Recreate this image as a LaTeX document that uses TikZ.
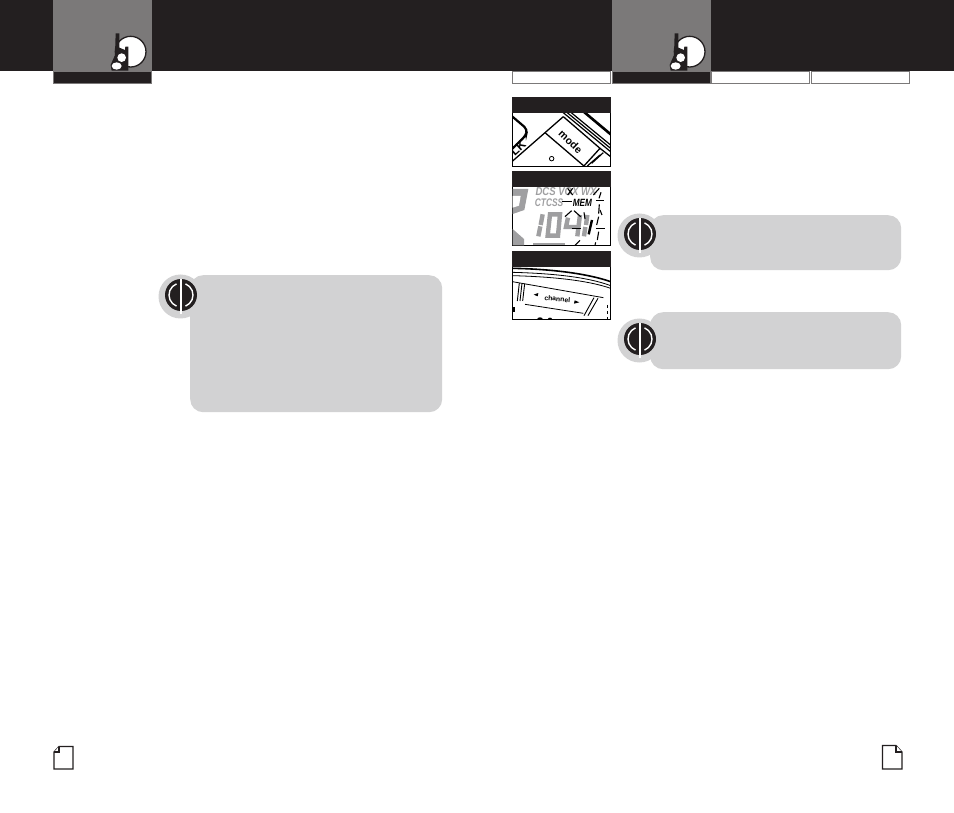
\documentclass[tikz,border=0pt]{standalone}
\usepackage{fontspec}
\setsansfont{Liberation Sans}
\usepackage{tikz}
\usetikzlibrary{positioning}
\definecolor{bandblack}{HTML}{231F20}
\definecolor{tabgray}{HTML}{7B7979}
\definecolor{notegray}{HTML}{D2D2D3}
\definecolor{lcdgray}{HTML}{9F9FA1}
\tikzset{
	band/.style={fill=bandblack,draw=none,inner sep=0pt,outer sep=0pt,anchor=north west},
	graytab/.style={fill=tabgray,draw=none,inner sep=0pt,outer sep=0pt,minimum width=99pt,minimum height=71pt,anchor=north west},
	darktab/.style={fill=bandblack,draw=tabgray,line width=.7pt,inner sep=0pt,outer sep=0pt,minimum width=98pt,minimum height=12pt,anchor=north west},
	whitetab/.style={fill=white,draw=tabgray,line width=.7pt,inner sep=0pt,minimum width=98pt,minimum height=12pt,anchor=north west},
	notebox/.style={fill=notegray,draw=none,rounded corners=13pt,inner sep=0pt,minimum width=251pt,anchor=north west},
	photo/.style={draw=black,line width=1pt,fill=white,inner sep=0pt,outer sep=0pt,minimum width=98pt,anchor=north west},
	photohead/.style={fill=bandblack,draw=none,inner sep=0pt,outer sep=0pt,minimum width=99pt,minimum height=16pt,anchor=north west},
	lcdseg/.style={draw=lcdgray,line width=4.4pt},
	lcdmark/.style={draw=black,line width=1.1pt},
	lcdword/.style={font=\sffamily\bfseries\itshape,text=lcdgray,anchor=west,inner sep=0pt},
	pageicon/.style={draw=bandblack,line width=1.2pt,fill=white,line join=miter}
}
% radio logo
\newcommand{\radiologo}[1]{
	\begin{scope}[shift={#1},x=.3333pt,y=-.3333pt]
		\draw [bandblack,fill=white,line width=1.3pt] (392,155) circle (46);
		\fill [bandblack] (347,100) -- (358,100) -- (358,143) -- (375,150) -- (376,140) -- (385,140) -- (385,212) -- (335,212) -- (332,195) -- (345,165) -- cycle;
		\fill [white] (365,173) circle (13);
		\fill [white] (350,198) ellipse (15 and 11);
	\end{scope}
}
% note mark
\newcommand{\notemark}[2]{
	\node [circle,fill=notegray,minimum size=44pt,inner sep=0pt] (#2) at ([shift={(-.5,1.5)}]#1) {};
	\node [circle,fill=bandblack,minimum size=32pt,inner sep=0pt] (#2in) at (#1) {};
	\draw [white,line width=1.4pt] (#2in.center) ++(68:12) arc (68:-68:12);
	\draw [white,line width=1.4pt] (#2in.center) ++(112:12) arc (112:248:12);
	\draw [white,line width=1.4pt] (#2in.north) -- ([yshift=-3pt]#2in.south);
}
\begin{document}
\begin{tikzpicture}[x=1pt,y=-1pt]
	\useasboundingbox [fill=white] (0,0) rectangle (954,813);

	% Top bands
	\node [band,minimum width=954pt,minimum height=71pt] (topband) at (0,0) {};
	\node [graytab] (tabL) at (52.7,0) {};
	\node [graytab] (tabR) at (611.7,0) {};
	\node [darktab] (darkL) at (53.2,71) {};
	\node [darktab] (darkR) at (612.2,71) {};
	\node [whitetab] (plainL) at (512.2,71) {};
	\node [whitetab] (plainA) at (711.2,71) {};
	\node [whitetab] (plainB) at (810.8,71) {};
	\radiologo{(0,0)}
	\radiologo{(559,0)}

	% Photos
	\node [photo,minimum height=69pt] (photoA) at (512.2,97.5) {};
	\node [photo,minimum height=74pt] (photoB) at (512.2,171.5) {};
	\node [photo,minimum height=68pt] (photoC) at (512.2,251.5) {};

	% mode key
	\begin{scope}[shift={(500,60)},x=.3333pt,y=-.3333pt]
		\clip (37,158) rectangle (331,319);
		\draw [line width=2.2pt,rounded corners=4pt] (35,168) -- (82,208) -- (78,226) -- (35,268);
		\draw [line width=1.3pt] (190,170) -- (30,310);
		\draw [line width=1.3pt] (135,218) -- (260,325);
		\draw [line width=1.3pt] (190,170) -- (300,265) -- (250,320);
		\draw [line width=1.3pt] (300,265) -- (332,290);
		\draw [line width=1.2pt] (180,150) -- (350,290);
		\draw [line width=1.2pt] (192,150) -- (350,280);
		\draw [line width=1.2pt] (204,150) -- (350,270);
		\draw [line width=2.6pt] (245,150) -- (350,238);
		\draw [line width=1.2pt] (275,310) -- (310,278);
		\draw [line width=1.2pt] (262,318) -- (300,285);
		\node [rotate=-44,font=\sffamily\bfseries\fontsize{10.5}{10.5}\selectfont,inner sep=0pt] (modelabel) at (212,246) {mode};
		\node [circle,draw=black,line width=.8pt,minimum size=4.5pt,inner sep=0pt] (modehole) at (155,296) {};
		\node [rotate=42,font=\sffamily\bfseries\fontsize{12}{12}\selectfont,inner sep=0pt] (locklabel) at (54,264) {LK};
	\end{scope}

	% LCD
	\begin{scope}[shift={(500,165)},x=.3333pt,y=-.3333pt]
		\clip (37,66) rectangle (331,241);
		\fill [lcdgray] (38,72) -- (85,72) -- (73,135) -- (38,147) -- cycle;
		\fill [white] (38,93) -- (62,93) -- (57,122) -- (38,128) -- cycle;
		\fill [lcdgray] (38,192) -- (72,222) -- (72,241) -- (38,241) -- cycle;
		\node [lcdword,font=\sffamily\bfseries\itshape\fontsize{11.5}{11.5}\selectfont] (dcslabel) at (106,79) {\scalebox{.83}[1]{DCS VOX WX}};
		\node [lcdword,font=\sffamily\bfseries\itshape\fontsize{11}{11}\selectfont] (ctcsslabel) at (104,114) {\scalebox{.76}[1]{CTCSS}};
		\node [lcdword,text=black,font=\sffamily\bfseries\itshape\fontsize{10.5}{10.5}\selectfont] (memlabel) at (218,115) {\scalebox{.78}[1]{MEM}};
		% digits
		\draw [lcdseg] (128,148) -- (122,180);
		\draw [lcdseg] (121,184) -- (115,214);
		\draw [lcdseg] (150,148) -- (180,148) -- (174,212) -- (143,212) -- cycle;
		\draw [lcdseg] (204,158) -- (198,186) -- (232,186);
		\draw [lcdseg] (240,150) -- (232,214);
		\draw [lcdseg] (262,150) -- (258,180);
		\draw [lcdseg] (256,186) -- (252,214);
		\fill [lcdgray] (100,234) rectangle (195,241);
		% black segments
		\draw [lcdmark] (185,110) -- (216,110);
		\draw [lcdmark] (203,70) -- (218,90);
		\draw [lcdmark] (218,70) -- (203,90);
		\draw [lcdmark] (195,155) -- (215,137);
		\draw [lcdmark] (222,137) -- (242,155);
		\draw [lcdmark] (252,142) -- (255,162);
		\draw [lcdmark] (215,190) -- (242,190);
		\draw [line width=2.4pt] (276,165) -- (266,208);
		\draw [lcdmark] (280,90) -- (298,70);
		\draw [lcdmark] (303,82) -- (297,100);
		\draw [lcdmark] (288,107) -- (312,107);
		\draw [lcdmark] (298,118) -- (296,146);
		\draw [lcdmark] (296,155) -- (290,180);
		\draw [lcdmark] (288,190) -- (315,190);
		\draw [lcdmark] (296,200) -- (292,225);
		\draw [lcdmark] (225,241) -- (240,226);
		\draw [lcdmark] (285,241) -- (287,232);
		\draw [lcdmark] (306,150) -- (300,135);
	\end{scope}

	% channel key
	\begin{scope}[shift={(500,165)},x=.3333pt,y=-.3333pt]
		\clip (37,305) rectangle (331,462);
		\draw [line width=1.6pt] (37,310) .. controls (150,312) and (260,325) .. (332,350);
		\draw [line width=.8pt] (37,322) .. controls (150,325) and (260,335) .. (332,362);
		\draw [line width=.8pt] (37,332) .. controls (150,335) and (260,345) .. (332,370);
		\draw [line width=.8pt] (37,350) -- (310,398);
		\draw [line width=.9pt] (58,354) -- (52,408);
		\draw [line width=.9pt] (66,355) -- (60,408);
		\draw [line width=.9pt] (74,356) -- (68,408);
		\draw [line width=.8pt] (75,418) -- (250,445);
		\draw [line width=.9pt] (282,398) -- (252,452);
		\draw [line width=.9pt] (294,400) -- (264,452);
		\node [rotate=-5,font=\sffamily\bfseries\fontsize{6.8}{6.8}\selectfont,inner sep=0pt] (chanlabel) at (172,402) {channel};
		\fill (101,389) -- (115,384) -- (113,394) -- cycle;
		\fill (238,412) -- (224,406) -- (222,416) -- cycle;
		\fill (38,425) rectangle (44,440);
		\fill (120,462) circle (8 and 5);
		\fill (150,462) circle (6 and 4);
		\draw [line width=.8pt,dashed] (322,420) -- (322,462);
	\end{scope}

	% Photo headers
	\node [photohead] (headA) at (511.7,97) {};
	\node [photohead] (headB) at (511.7,171) {};
	\node [photohead] (headC) at (511.7,251) {};

	% Notes
	\node [notebox,minimum width=252pt,minimum height=137pt] (noteA) at (190,275) {};
	\node [notebox,minimum height=55pt] (noteB) at (650,215) {};
	\node [notebox,minimum height=57pt] (noteC) at (650,312) {};
	\notemark{181,295}{markA}
	\notemark{640,234}{markB}
	\notemark{640,339}{markC}

	% Page icons
	\draw [pageicon] (59,746.5) -- (73,746.5) -- (73,769) -- (54,769) -- (54,752) -- cycle;
	\draw [pageicon] (54,752) -- (59,752) -- (59,746.5);
	\draw [pageicon] (882.5,745.5) -- (896,745.5) -- (902,752) -- (902,769) -- (882.5,769) -- cycle;
	\draw [pageicon] (896,745.5) -- (896,752) -- (902,752);
\end{tikzpicture}
\end{document}
